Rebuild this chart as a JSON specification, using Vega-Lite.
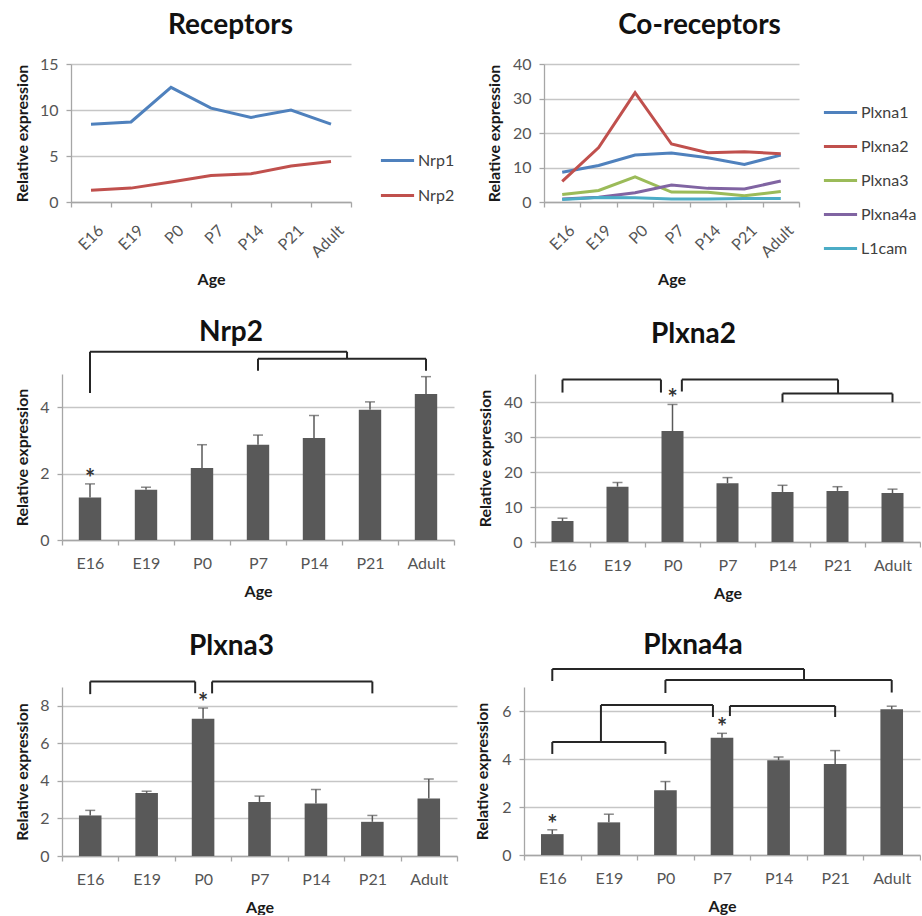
{
  "$schema": "https://vega.github.io/schema/vega-lite/v6.json",
  "background": "white",
  "padding": {"left": 13, "top": 12, "right": 0, "bottom": 0},
  "config": {
    "font": "Lato",
    "view": {"stroke": null},
    "title": {"font": "Lato", "fontSize": 28, "fontWeight": "bold", "color": "#111111", "anchor": "middle", "frame": "group"},
    "axis": {"labelFont": "Lato", "labelFontSize": 16, "labelColor": "#555555", "titleFont": "Lato", "titleFontSize": 16, "titleFontWeight": "bold", "titleColor": "#1a1a1a", "domainColor": "#a6a6a6", "domainWidth": 1.3, "tickColor": "#a6a6a6", "tickWidth": 1.3, "gridColor": "#c6c6c6", "gridWidth": 1.3, "tickSize": 5},
    "axisY": {"grid": true, "labelPadding": 8, "titlePadding": 0},
    "axisX": {"grid": false},
    "legend": {"labelFont": "Lato", "labelFontSize": 16, "labelColor": "#404040"}
  },
  "datasets": {
    "receptors": [
      {"age": "E16", "gene": "Nrp1", "value": 8.46}, {"age": "E19", "gene": "Nrp1", "value": 8.7}, {"age": "P0", "gene": "Nrp1", "value": 12.46}, {"age": "P7", "gene": "Nrp1", "value": 10.2}, {"age": "P14", "gene": "Nrp1", "value": 9.2}, {"age": "P21", "gene": "Nrp1", "value": 10.0}, {"age": "Adult", "gene": "Nrp1", "value": 8.46},
      {"age": "E16", "gene": "Nrp2", "value": 1.28}, {"age": "E19", "gene": "Nrp2", "value": 1.51}, {"age": "P0", "gene": "Nrp2", "value": 2.17}, {"age": "P7", "gene": "Nrp2", "value": 2.87}, {"age": "P14", "gene": "Nrp2", "value": 3.07}, {"age": "P21", "gene": "Nrp2", "value": 3.92}, {"age": "Adult", "gene": "Nrp2", "value": 4.4}
    ],
    "coreceptors": [
      {"age": "E16", "gene": "Plxna1", "value": 8.65}, {"age": "E19", "gene": "Plxna1", "value": 10.6}, {"age": "P0", "gene": "Plxna1", "value": 13.6}, {"age": "P7", "gene": "Plxna1", "value": 14.2}, {"age": "P14", "gene": "Plxna1", "value": 12.8}, {"age": "P21", "gene": "Plxna1", "value": 10.9}, {"age": "Adult", "gene": "Plxna1", "value": 13.6},
      {"age": "E16", "gene": "Plxna2", "value": 6.0}, {"age": "E19", "gene": "Plxna2", "value": 15.8}, {"age": "P0", "gene": "Plxna2", "value": 31.7}, {"age": "P7", "gene": "Plxna2", "value": 16.8}, {"age": "P14", "gene": "Plxna2", "value": 14.3}, {"age": "P21", "gene": "Plxna2", "value": 14.6}, {"age": "Adult", "gene": "Plxna2", "value": 14.0},
      {"age": "E16", "gene": "Plxna3", "value": 2.16}, {"age": "E19", "gene": "Plxna3", "value": 3.36}, {"age": "P0", "gene": "Plxna3", "value": 7.31}, {"age": "P7", "gene": "Plxna3", "value": 2.88}, {"age": "P14", "gene": "Plxna3", "value": 2.8}, {"age": "P21", "gene": "Plxna3", "value": 1.82}, {"age": "Adult", "gene": "Plxna3", "value": 3.06},
      {"age": "E16", "gene": "Plxna4a", "value": 0.87}, {"age": "E19", "gene": "Plxna4a", "value": 1.36}, {"age": "P0", "gene": "Plxna4a", "value": 2.7}, {"age": "P7", "gene": "Plxna4a", "value": 4.89}, {"age": "P14", "gene": "Plxna4a", "value": 3.95}, {"age": "P21", "gene": "Plxna4a", "value": 3.79}, {"age": "Adult", "gene": "Plxna4a", "value": 6.07},
      {"age": "E16", "gene": "L1cam", "value": 0.7}, {"age": "E19", "gene": "L1cam", "value": 1.3}, {"age": "P0", "gene": "L1cam", "value": 1.2}, {"age": "P7", "gene": "L1cam", "value": 0.9}, {"age": "P14", "gene": "L1cam", "value": 0.9}, {"age": "P21", "gene": "L1cam", "value": 1.0}, {"age": "Adult", "gene": "L1cam", "value": 1.0}
    ],
    "nrp2": [
      {"age": "E16", "mean": 1.28, "upper": 1.69, "sig": true}, {"age": "E19", "mean": 1.51, "upper": 1.59, "sig": false}, {"age": "P0", "mean": 2.17, "upper": 2.87, "sig": false}, {"age": "P7", "mean": 2.87, "upper": 3.16, "sig": false}, {"age": "P14", "mean": 3.07, "upper": 3.75, "sig": false}, {"age": "P21", "mean": 3.92, "upper": 4.16, "sig": false}, {"age": "Adult", "mean": 4.4, "upper": 4.92, "sig": false}
    ],
    "plxna2": [
      {"age": "E16", "mean": 6.0, "upper": 6.8, "sig": false}, {"age": "E19", "mean": 15.8, "upper": 17.0, "sig": false}, {"age": "P0", "mean": 31.7, "upper": 39.3, "sig": true}, {"age": "P7", "mean": 16.8, "upper": 18.4, "sig": false}, {"age": "P14", "mean": 14.3, "upper": 16.2, "sig": false}, {"age": "P21", "mean": 14.6, "upper": 15.8, "sig": false}, {"age": "Adult", "mean": 14.0, "upper": 15.1, "sig": false}
    ],
    "plxna3": [
      {"age": "E16", "mean": 2.16, "upper": 2.43, "sig": false}, {"age": "E19", "mean": 3.36, "upper": 3.45, "sig": false}, {"age": "P0", "mean": 7.31, "upper": 7.88, "sig": true}, {"age": "P7", "mean": 2.88, "upper": 3.19, "sig": false}, {"age": "P14", "mean": 2.8, "upper": 3.54, "sig": false}, {"age": "P21", "mean": 1.82, "upper": 2.16, "sig": false}, {"age": "Adult", "mean": 3.06, "upper": 4.1, "sig": false}
    ],
    "plxna4a": [
      {"age": "E16", "mean": 0.87, "upper": 1.05, "sig": true}, {"age": "E19", "mean": 1.36, "upper": 1.7, "sig": false}, {"age": "P0", "mean": 2.7, "upper": 3.06, "sig": false}, {"age": "P7", "mean": 4.89, "upper": 5.07, "sig": true}, {"age": "P14", "mean": 3.95, "upper": 4.08, "sig": false}, {"age": "P21", "mean": 3.79, "upper": 4.35, "sig": false}, {"age": "Adult", "mean": 6.07, "upper": 6.2, "sig": false}
    ],
    "br_nrp2": [
      {"x1": 0.5, "x2": 5.09, "y1": 5.67, "y2": 5.67}, {"x1": 0.5, "x2": 0.5, "y1": 5.67, "y2": 4.43}, {"x1": 5.09, "x2": 5.09, "y1": 5.67, "y2": 5.46},
      {"x1": 3.5, "x2": 6.5, "y1": 5.46, "y2": 5.46}, {"x1": 3.5, "x2": 3.5, "y1": 5.46, "y2": 5.1}, {"x1": 6.5, "x2": 6.5, "y1": 5.46, "y2": 5.1}
    ],
    "br_plxna2": [
      {"x1": 0.5, "x2": 2.29, "y1": 46.4, "y2": 46.4}, {"x1": 0.5, "x2": 0.5, "y1": 46.4, "y2": 42.7}, {"x1": 2.29, "x2": 2.29, "y1": 46.4, "y2": 42.7},
      {"x1": 2.67, "x2": 5.51, "y1": 46.4, "y2": 46.4}, {"x1": 2.67, "x2": 2.67, "y1": 46.4, "y2": 43.0}, {"x1": 5.51, "x2": 5.51, "y1": 46.4, "y2": 42.4},
      {"x1": 4.5, "x2": 6.5, "y1": 42.4, "y2": 42.4}, {"x1": 4.5, "x2": 4.5, "y1": 42.4, "y2": 39.9}, {"x1": 6.5, "x2": 6.5, "y1": 42.4, "y2": 39.9}
    ],
    "br_plxna3": [
      {"x1": 0.5, "x2": 2.36, "y1": 9.29, "y2": 9.29}, {"x1": 0.5, "x2": 0.5, "y1": 9.29, "y2": 8.62}, {"x1": 2.36, "x2": 2.36, "y1": 9.29, "y2": 8.67},
      {"x1": 2.66, "x2": 5.5, "y1": 9.29, "y2": 9.29}, {"x1": 2.66, "x2": 2.66, "y1": 9.29, "y2": 8.66}, {"x1": 5.5, "x2": 5.5, "y1": 9.29, "y2": 8.66}
    ],
    "br_plxna4a": [
      {"x1": 0.5, "x2": 4.95, "y1": 7.75, "y2": 7.75}, {"x1": 0.5, "x2": 0.5, "y1": 7.75, "y2": 7.25}, {"x1": 4.95, "x2": 4.95, "y1": 7.75, "y2": 7.29},
      {"x1": 2.5, "x2": 6.5, "y1": 7.29, "y2": 7.29}, {"x1": 2.5, "x2": 2.5, "y1": 7.29, "y2": 6.75}, {"x1": 6.5, "x2": 6.5, "y1": 7.29, "y2": 6.77},
      {"x1": 1.36, "x2": 3.34, "y1": 6.25, "y2": 6.25}, {"x1": 3.34, "x2": 3.34, "y1": 6.25, "y2": 5.75}, {"x1": 1.36, "x2": 1.36, "y1": 6.25, "y2": 4.71},
      {"x1": 0.5, "x2": 2.5, "y1": 4.71, "y2": 4.71}, {"x1": 0.5, "x2": 0.5, "y1": 4.71, "y2": 4.21}, {"x1": 2.5, "x2": 2.5, "y1": 4.71, "y2": 4.21},
      {"x1": 3.64, "x2": 5.5, "y1": 6.21, "y2": 6.21}, {"x1": 3.64, "x2": 3.64, "y1": 6.21, "y2": 5.79}, {"x1": 5.5, "x2": 5.5, "y1": 6.21, "y2": 5.75}
    ]
  },
  "spacing": 30,
  "vconcat": [
    {
      "hconcat": [
        {
          "width": 289, "height": 138,
          "title": {"text": "Receptors", "dx": 24, "offset": 16},
          "data": {"name": "receptors"},
          "mark": {"type": "line", "strokeWidth": 3},
          "encoding": {
            "x": {"field": "age", "type": "nominal", "sort": ["E16", "E19", "P0", "P7", "P14", "P21", "Adult"], "scale": {"type": "band", "paddingInner": 0, "paddingOuter": 0, "range": [9, 289]},
                  "axis": {"title": "Age", "labelAngle": -45, "tickBand": "extent", "labelPadding": 15, "titlePadding": 11, "labelOffset": 4}},
            "y": {"field": "value", "type": "quantitative", "scale": {"domain": [0, 15]},
                  "axis": {"title": "Relative expression", "values": [0, 5, 10, 15], "offset": -9, "minExtent": 41, "maxExtent": 41}},
            "color": {"field": "gene", "type": "nominal", "scale": {"domain": ["Nrp1", "Nrp2"], "range": ["#4F81BD", "#C0504D"]},
                      "legend": {"orient": "none", "legendX": 317, "legendY": 78, "title": null, "symbolType": "stroke", "symbolSize": 1100, "symbolStrokeWidth": 3, "rowPadding": 8, "padding": 0, "labelOffset": 2}}
          }
        },
        {
          "width": 255, "height": 138,
          "title": {"text": "Co-receptors", "dx": 28, "offset": 16},
          "data": {"name": "coreceptors"},
          "mark": {"type": "line", "strokeWidth": 3},
          "encoding": {
            "x": {"field": "age", "type": "nominal", "sort": ["E16", "E19", "P0", "P7", "P14", "P21", "Adult"], "scale": {"type": "band", "paddingInner": 0, "paddingOuter": 0},
                  "axis": {"title": "Age", "labelAngle": -45, "tickBand": "extent", "labelPadding": 15, "titlePadding": 11, "labelOffset": 4}},
            "y": {"field": "value", "type": "quantitative", "scale": {"domain": [0, 40]},
                  "axis": {"title": "Relative expression", "values": [0, 10, 20, 30, 40], "minExtent": 42, "maxExtent": 42}},
            "color": {"field": "gene", "type": "nominal", "scale": {"domain": ["Plxna1", "Plxna2", "Plxna3", "Plxna4a", "L1cam"], "range": ["#4F81BD", "#C0504D", "#9BBB59", "#8064A2", "#4BACC6"]},
                      "legend": {"orient": "none", "legendX": 278, "legendY": 30, "title": null, "symbolType": "stroke", "symbolSize": 1100, "symbolStrokeWidth": 3, "rowPadding": 7, "padding": 0, "labelOffset": 2}}
          }
        }
      ],
      "spacing": 30,
      "resolve": {"scale": {"color": "independent"}, "legend": {"color": "independent"}}
    },
    {
      "hconcat": [
        {
          "width": 392, "height": 166,
          "title": {"text": "Nrp2", "dx": -27, "offset": 4},
          "layer": [
            {"data": {"name": "nrp2"},
             "layer": [
              {"mark": {"type": "bar", "color": "#595959", "width": {"band": 0.4}},
               "encoding": {
                 "x": {"field": "age", "type": "nominal", "sort": ["E16", "E19", "P0", "P7", "P14", "P21", "Adult"], "scale": {"type": "band", "paddingInner": 0, "paddingOuter": 0},
                       "axis": {"title": "Age", "labelAngle": 0, "tickBand": "extent", "labelPadding": 10, "titlePadding": 12}},
                 "y": {"field": "mean", "type": "quantitative", "scale": {"domain": [0, 5]},
                       "axis": {"title": "Relative expression", "values": [0, 2, 4], "minExtent": 32, "maxExtent": 32}}}},
              {"mark": {"type": "rule", "color": "#595959", "strokeWidth": 1.5},
               "encoding": {"x": {"field": "age", "type": "nominal", "sort": ["E16", "E19", "P0", "P7", "P14", "P21", "Adult"]}, "y": {"field": "mean", "type": "quantitative", "scale": {"domain": [0, 5]}}, "y2": {"field": "upper"}}},
              {"mark": {"type": "tick", "color": "#595959", "size": 10, "thickness": 1.5},
               "encoding": {"x": {"field": "age", "type": "nominal", "sort": ["E16", "E19", "P0", "P7", "P14", "P21", "Adult"]}, "y": {"field": "upper", "type": "quantitative", "scale": {"domain": [0, 5]}}}},
              {"transform": [{"filter": "datum.sig"}],
               "mark": {"type": "text", "text": "*", "fontSize": 24, "fontWeight": "bold", "baseline": "alphabetic", "dy": 3, "color": "#333333"},
               "encoding": {"x": {"field": "age", "type": "nominal", "sort": ["E16", "E19", "P0", "P7", "P14", "P21", "Adult"]}, "y": {"field": "upper", "type": "quantitative", "scale": {"domain": [0, 5]}}}}
             ]},
            {"data": {"name": "br_nrp2"},
             "mark": {"type": "rule", "color": "#262626", "strokeWidth": 2},
             "encoding": {"x": {"field": "x1", "type": "quantitative", "scale": {"domain": [0, 7], "nice": false, "zero": false}, "axis": null}, "x2": {"field": "x2"},
                          "y": {"field": "y1", "type": "quantitative", "scale": {"domain": [0, 5]}}, "y2": {"field": "y2"}}}
          ],
          "resolve": {"scale": {"x": "independent"}}
        },
        {
          "width": 385, "height": 168,
          "title": {"text": "Plxna2", "dx": -34, "offset": 25},
          "layer": [
            {"data": {"name": "plxna2"},
             "layer": [
              {"mark": {"type": "bar", "color": "#595959", "width": {"band": 0.4}},
               "encoding": {
                 "x": {"field": "age", "type": "nominal", "sort": ["E16", "E19", "P0", "P7", "P14", "P21", "Adult"], "scale": {"type": "band", "paddingInner": 0, "paddingOuter": 0},
                       "axis": {"title": "Age", "labelAngle": 0, "tickBand": "extent", "labelPadding": 10, "titlePadding": 12}},
                 "y": {"field": "mean", "type": "quantitative", "scale": {"domain": [0, 48]},
                       "axis": {"title": "Relative expression", "values": [0, 10, 20, 30, 40], "minExtent": 42, "maxExtent": 42}}}},
              {"mark": {"type": "rule", "color": "#595959", "strokeWidth": 1.5},
               "encoding": {"x": {"field": "age", "type": "nominal", "sort": ["E16", "E19", "P0", "P7", "P14", "P21", "Adult"]}, "y": {"field": "mean", "type": "quantitative", "scale": {"domain": [0, 48]}}, "y2": {"field": "upper"}}},
              {"mark": {"type": "tick", "color": "#595959", "size": 10, "thickness": 1.5},
               "encoding": {"x": {"field": "age", "type": "nominal", "sort": ["E16", "E19", "P0", "P7", "P14", "P21", "Adult"]}, "y": {"field": "upper", "type": "quantitative", "scale": {"domain": [0, 48]}}}},
              {"transform": [{"filter": "datum.sig"}],
               "mark": {"type": "text", "text": "*", "fontSize": 24, "fontWeight": "bold", "baseline": "alphabetic", "dy": 3, "color": "#333333"},
               "encoding": {"x": {"field": "age", "type": "nominal", "sort": ["E16", "E19", "P0", "P7", "P14", "P21", "Adult"]}, "y": {"field": "upper", "type": "quantitative", "scale": {"domain": [0, 48]}}}}
             ]},
            {"data": {"name": "br_plxna2"},
             "mark": {"type": "rule", "color": "#262626", "strokeWidth": 2},
             "encoding": {"x": {"field": "x1", "type": "quantitative", "scale": {"domain": [0, 7], "nice": false, "zero": false}, "axis": null}, "x2": {"field": "x2"},
                          "y": {"field": "y1", "type": "quantitative", "scale": {"domain": [0, 48]}}, "y2": {"field": "y2"}}}
          ],
          "resolve": {"scale": {"x": "independent"}}
        }
      ],
      "spacing": 22
    },
    {
      "hconcat": [
        {
          "width": 395, "height": 169,
          "title": {"text": "Plxna3", "dx": -28, "offset": 20},
          "layer": [
            {"data": {"name": "plxna3"},
             "layer": [
              {"mark": {"type": "bar", "color": "#595959", "width": {"band": 0.4}},
               "encoding": {
                 "x": {"field": "age", "type": "nominal", "sort": ["E16", "E19", "P0", "P7", "P14", "P21", "Adult"], "scale": {"type": "band", "paddingInner": 0, "paddingOuter": 0},
                       "axis": {"title": "Age", "labelAngle": 0, "tickBand": "extent", "labelPadding": 10, "titlePadding": 12}},
                 "y": {"field": "mean", "type": "quantitative", "scale": {"domain": [0, 9]},
                       "axis": {"title": "Relative expression", "values": [0, 2, 4, 6, 8], "minExtent": 32, "maxExtent": 32}}}},
              {"mark": {"type": "rule", "color": "#595959", "strokeWidth": 1.5},
               "encoding": {"x": {"field": "age", "type": "nominal", "sort": ["E16", "E19", "P0", "P7", "P14", "P21", "Adult"]}, "y": {"field": "mean", "type": "quantitative", "scale": {"domain": [0, 9]}}, "y2": {"field": "upper"}}},
              {"mark": {"type": "tick", "color": "#595959", "size": 10, "thickness": 1.5},
               "encoding": {"x": {"field": "age", "type": "nominal", "sort": ["E16", "E19", "P0", "P7", "P14", "P21", "Adult"]}, "y": {"field": "upper", "type": "quantitative", "scale": {"domain": [0, 9]}}}},
              {"transform": [{"filter": "datum.sig"}],
               "mark": {"type": "text", "text": "*", "fontSize": 24, "fontWeight": "bold", "baseline": "alphabetic", "dy": 3, "color": "#333333"},
               "encoding": {"x": {"field": "age", "type": "nominal", "sort": ["E16", "E19", "P0", "P7", "P14", "P21", "Adult"]}, "y": {"field": "upper", "type": "quantitative", "scale": {"domain": [0, 9]}}}}
             ]},
            {"data": {"name": "br_plxna3"},
             "mark": {"type": "rule", "color": "#262626", "strokeWidth": 2},
             "encoding": {"x": {"field": "x1", "type": "quantitative", "scale": {"domain": [0, 7], "nice": false, "zero": false}, "axis": null}, "x2": {"field": "x2"},
                          "y": {"field": "y1", "type": "quantitative", "scale": {"domain": [0, 9]}}, "y2": {"field": "y2"}}}
          ],
          "resolve": {"scale": {"x": "independent"}}
        },
        {
          "width": 396, "height": 168,
          "title": {"text": "Plxna4a", "dx": -29, "offset": 8},
          "layer": [
            {"data": {"name": "plxna4a"},
             "layer": [
              {"mark": {"type": "bar", "color": "#595959", "width": {"band": 0.4}},
               "encoding": {
                 "x": {"field": "age", "type": "nominal", "sort": ["E16", "E19", "P0", "P7", "P14", "P21", "Adult"], "scale": {"type": "band", "paddingInner": 0, "paddingOuter": 0},
                       "axis": {"title": "Age", "labelAngle": 0, "tickBand": "extent", "labelPadding": 10, "titlePadding": 12}},
                 "y": {"field": "mean", "type": "quantitative", "scale": {"domain": [0, 7]},
                       "axis": {"title": "Relative expression", "values": [0, 2, 4, 6], "minExtent": 34, "maxExtent": 34}}}},
              {"mark": {"type": "rule", "color": "#595959", "strokeWidth": 1.5},
               "encoding": {"x": {"field": "age", "type": "nominal", "sort": ["E16", "E19", "P0", "P7", "P14", "P21", "Adult"]}, "y": {"field": "mean", "type": "quantitative", "scale": {"domain": [0, 7]}}, "y2": {"field": "upper"}}},
              {"mark": {"type": "tick", "color": "#595959", "size": 10, "thickness": 1.5},
               "encoding": {"x": {"field": "age", "type": "nominal", "sort": ["E16", "E19", "P0", "P7", "P14", "P21", "Adult"]}, "y": {"field": "upper", "type": "quantitative", "scale": {"domain": [0, 7]}}}},
              {"transform": [{"filter": "datum.sig"}],
               "mark": {"type": "text", "text": "*", "fontSize": 24, "fontWeight": "bold", "baseline": "alphabetic", "dy": 3, "color": "#333333"},
               "encoding": {"x": {"field": "age", "type": "nominal", "sort": ["E16", "E19", "P0", "P7", "P14", "P21", "Adult"]}, "y": {"field": "upper", "type": "quantitative", "scale": {"domain": [0, 7]}}}}
             ]},
            {"data": {"name": "br_plxna4a"},
             "mark": {"type": "rule", "color": "#262626", "strokeWidth": 2},
             "encoding": {"x": {"field": "x1", "type": "quantitative", "scale": {"domain": [0, 7], "nice": false, "zero": false}, "axis": null}, "x2": {"field": "x2"},
                          "y": {"field": "y1", "type": "quantitative", "scale": {"domain": [0, 7]}}, "y2": {"field": "y2"}}}
          ],
          "resolve": {"scale": {"x": "independent"}}
        }
      ],
      "spacing": 16
    }
  ]
}
